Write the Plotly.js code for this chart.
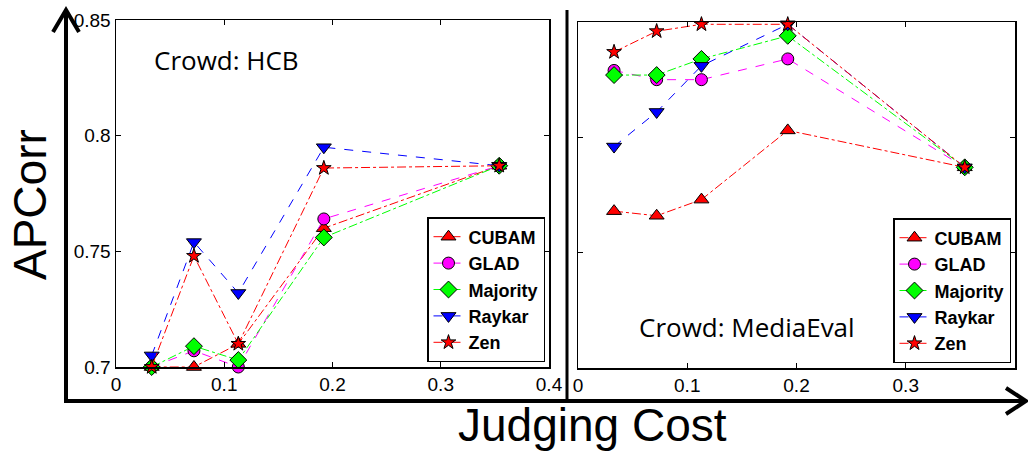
<!DOCTYPE html>
<html>
<head>
<meta charset="utf-8">
<script src="https://cdn.plot.ly/plotly-3.0.1.min.js"></script>
<style>html,body{margin:0;padding:0;background:#fff;}#chart{width:1028px;height:454px;}</style>
</head>
<body>
<div id="chart"></div>
<script>
// ---- data ----
const judgingCost = [0.033, 0.072, 0.113, 0.192, 0.354];
const seriesNames = ["CUBAM", "GLAD", "Majority", "Raykar", "Zen"];
// Crowd: HCB
const hcbCUBAM    = [0.700, 0.700, 0.710, 0.760, 0.787];
const hcbGLAD     = [0.700, 0.707, 0.700, 0.764, 0.787];
const hcbMajority = [0.700, 0.709, 0.703, 0.756, 0.787];
const hcbRaykar   = [0.705, 0.754, 0.732, 0.795, 0.787];
const hcbZen      = [0.700, 0.748, 0.710, 0.786, 0.787];
// Crowd: MediaEval (axis labels hidden in the original; same scale assumed)
const meCUBAM    = [0.768, 0.766, 0.773, 0.803, 0.787];
const meGLAD     = [0.829, 0.825, 0.825, 0.834, 0.787];
const meMajority = [0.827, 0.827, 0.834, 0.844, 0.787];
const meRaykar   = [0.796, 0.811, 0.831, 0.849, 0.787];
const meZen      = [0.837, 0.846, 0.849, 0.849, 0.787];
const yTicks = [0.7, 0.75, 0.8, 0.85];
const yTickText = ["0.7", "0.75", "0.8", "0.85"];
const xTicks = [0, 0.1, 0.2, 0.3, 0.4];
const xTickText = ["0", "0.1", "0.2", "0.3", "0.4"];

// ---- styles ----
const styles = {
  CUBAM:    {color: "#ff0000", dash: "dashdot", symbol: "triangle-up", size: 13},
  GLAD:     {color: "#ff00ff", dash: "dash",    symbol: "circle",      size: 12},
  Majority: {color: "#00ff00", dash: "dashdot", symbol: "diamond",     size: 13},
  Raykar:   {color: "#0000ff", dash: "dash",    symbol: "triangle-down", size: 13},
  Zen:      {color: "#ff0000", dash: "dashdot", symbol: "star",        size: 11}
};
const hcb = [hcbCUBAM, hcbGLAD, hcbMajority, hcbRaykar, hcbZen];
const me = [meCUBAM, meGLAD, meMajority, meRaykar, meZen];

const traces = [];
function addSet(vals, xa, ya, leg) {
  seriesNames.forEach((n, i) => {
    const s = styles[n];
    traces.push({
      x: judgingCost, y: vals[i], name: n, type: "scatter", mode: "lines+markers",
      xaxis: xa, yaxis: ya, legend: leg, cliponaxis: false,
      line: {color: s.color, dash: s.dash, width: 1},
      marker: {symbol: s.symbol, size: s.size, color: s.color, line: {color: "#000", width: 1}}
    });
  });
}
addSet(hcb, "x", "y", "legend");
addSet(me, "x2", "y2", "legend2");

const W = 1028, H = 454;
const px = x => x / W, py = y => 1 - y / H;
const tickFont = {family: "Liberation Sans, Arial, sans-serif", size: 19, color: "#000"};
const axisCommon = {
  showgrid: false, zeroline: false, showline: true, linecolor: "#000", linewidth: 1.5,
  mirror: "ticks", ticks: "inside", ticklen: 5, tickcolor: "#000", tickfont: tickFont
};
const legendCommon = {
  bgcolor: "#fff", bordercolor: "#000", borderwidth: 1.5,
  font: {family: "Liberation Sans, Arial, sans-serif", size: 18, color: "#000", weight: "bold"},
  xanchor: "right", yanchor: "bottom", tracegroupgap: 0, itemwidth: 30
};
const ann = (x, y, text, font, extra) => Object.assign({
  xref: "paper", yref: "paper", x: px(x), y: py(y), text: text, showarrow: false,
  xanchor: "center", yanchor: "middle", font: font
}, extra || {});
const calloutFont = {family: "Open Sans, Noto Sans, sans-serif", size: 26, color: "#000"};
const xTitleFont = {family: "Liberation Sans, Arial, sans-serif", size: 46, color: "#000"};
const yTitleFont = {family: "Liberation Sans, Arial, sans-serif", size: 46, color: "#000"};

const layout = {
  width: W, height: H, margin: {l: 0, r: 0, t: 0, b: 0},
  paper_bgcolor: "#fff", plot_bgcolor: "#fff", showlegend: true,
  xaxis: Object.assign({}, axisCommon, {domain: [px(116), px(549)], range: [0, 0.4], tickvals: xTicks, ticktext: xTickText, anchor: "y"}),
  yaxis: Object.assign({}, axisCommon, {domain: [py(367), py(20)], range: [0.7, 0.85], tickvals: yTicks, ticktext: yTickText, anchor: "x"}),
  xaxis2: Object.assign({}, axisCommon, {domain: [px(578), px(1015)], range: [0, 0.4], tickvals: xTicks, ticktext: xTickText, anchor: "y2"}),
  yaxis2: Object.assign({}, axisCommon, {domain: [py(368), py(22)], range: [0.7, 0.85], tickvals: yTicks, showticklabels: false, anchor: "x2"}),
  legend: Object.assign({}, legendCommon, {x: px(545), y: py(362)}),
  legend2: Object.assign({}, legendCommon, {x: px(1011), y: py(363)}),
  shapes: [
    // vertical arrow
    {type: "line", xref: "paper", yref: "paper", x0: px(66), x1: px(66), y0: py(402), y1: py(10), line: {color: "#000", width: 4}},
    {type: "path", xref: "paper", yref: "paper", path: `M ${px(53)} ${py(32)} L ${px(66)} ${py(10)} L ${px(79)} ${py(32)}`, line: {color: "#000", width: 4}},
    // horizontal arrow
    {type: "line", xref: "paper", yref: "paper", x0: px(64), x1: px(1026), y0: py(401), y1: py(401), line: {color: "#000", width: 4}},
    {type: "path", xref: "paper", yref: "paper", path: `M ${px(1006)} ${py(388)} L ${px(1026)} ${py(401)} L ${px(1006)} ${py(414)}`, line: {color: "#000", width: 4}},
    // divider
    {type: "line", xref: "paper", yref: "paper", x0: px(567), x1: px(567), y0: py(400), y1: py(10), line: {color: "#000", width: 3}}
  ],
  annotations: [
    ann(226, 60, "Crowd: HCB", calloutFont),
    ann(747, 327, "Crowd: MediaEval", calloutFont),
    ann(30, 205, "APCorr", yTitleFont, {textangle: -90}),
    ann(592, 425, "Judging Cost", xTitleFont)
  ]
};

Plotly.newPlot("chart", traces, layout, {displayModeBar: false, staticPlot: true});
</script>
</body>
</html>
